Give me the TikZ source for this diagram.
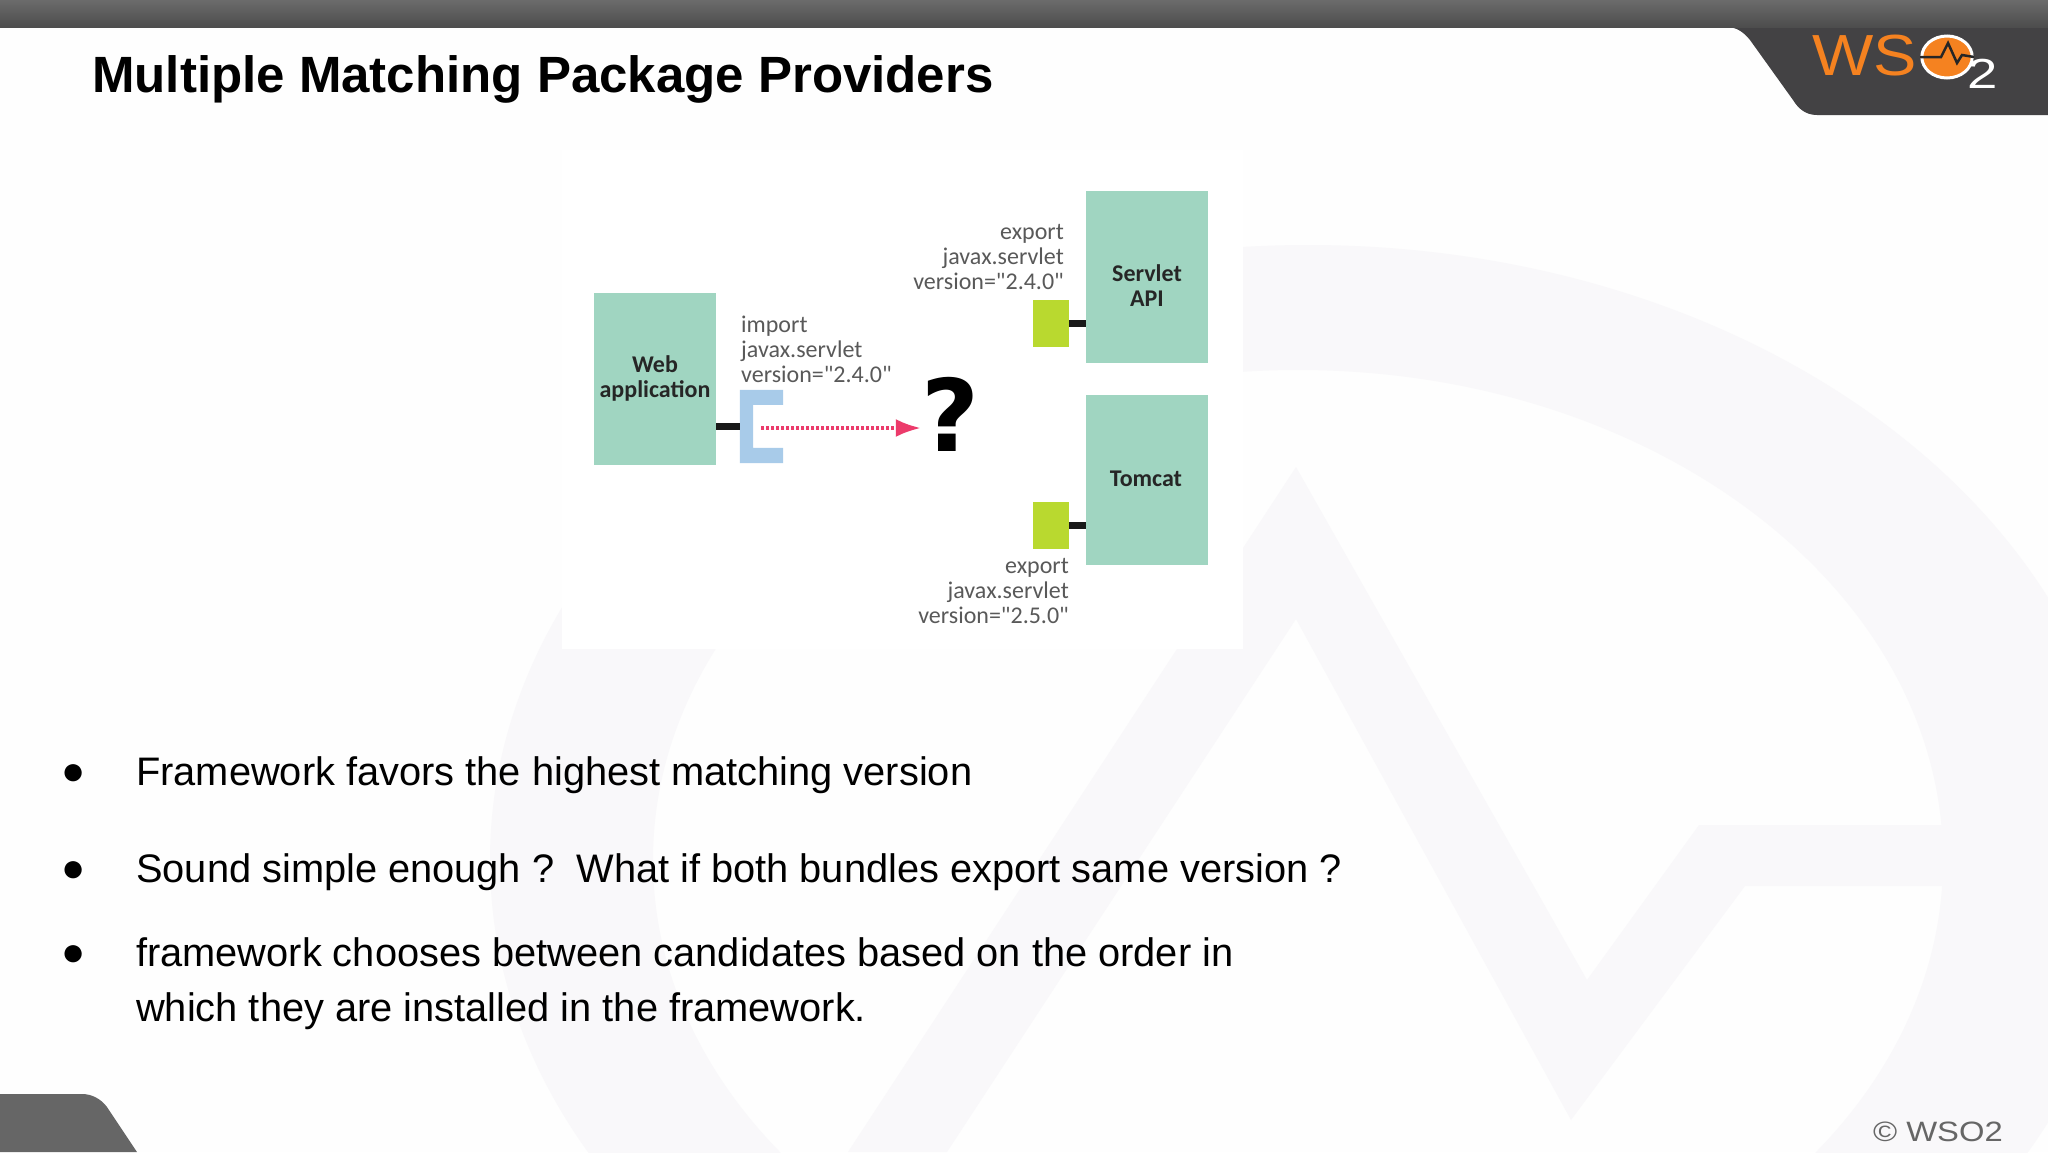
\documentclass[tikz,border=0pt]{standalone}
\usepackage{fontspec}
\setmainfont{Liberation Sans}
\newfontfamily\labelfont{Carlito}
\newfontfamily\heavyfont{DejaVu Sans}
\usetikzlibrary{arrows.meta}
\definecolor{wmark}{HTML}{F9F8FA}
\definecolor{bundle}{HTML}{A0D5C1}
\definecolor{pkg}{HTML}{B9D92F}
\definecolor{socketblue}{HTML}{A8CBE9}
\definecolor{pinkline}{HTML}{EC3B6B}
\definecolor{wsoorange}{HTML}{F58220}
\definecolor{header}{HTML}{434244}
\tikzset{
	bundlebox/.style={fill=bundle,minimum width=122pt,inner sep=0pt,font=\labelfont\bfseries\fontsize{24}{25}\selectfont,text=black!85,align=center},
	pkgbox/.style={fill=pkg,minimum width=36pt,minimum height=47pt,inner sep=0pt},
	pkglabel/.style={inner sep=0pt,font=\labelfont\fontsize{24}{25}\selectfont,text=black!65},
	stub/.style={line width=7pt,black!90},
	bullet/.style={inner sep=0pt,font=\fontsize{40}{40}\selectfont},
	bodytext/.style={inner sep=0pt,anchor=base west,font=\fontsize{39.8}{55.5}\selectfont,align=left}
}
\begin{document}
\begin{tikzpicture}[x=1pt,y=-1pt]
	\useasboundingbox (0,0) rectangle (2048,1152);
	\fill[white!99.5!black] (0,0) rectangle (2048,1152);
	% watermark behind the slide
	\fill[wmark,even odd rule] (1308,860) ellipse [x radius=818pt,y radius=615pt] (1298,860) ellipse [x radius=645pt,y radius=490pt];
	\fill[wmark] (848,1152) -- (1296,467) -- (1587,980) -- (1699,825) -- (1943,825) -- (1943,886) -- (1745,886) -- (1571,1120) -- (1296,619) -- (947,1152) -- cycle;
	\fill[white] (562,150) rectangle (1243,649);
	% header and footer
	\fill[header] (1700,0) -- (2048,0) -- (2048,115) -- (1817,115) .. controls (1805,115) and (1798,108) .. (1793,100) -- (1750,40) .. controls (1743,31) and (1735,27) .. (1727,27) -- (1700,27) -- cycle;
	\shade[top color=black!58,bottom color=black!70] (0,0) rectangle (2048,27);
	\fill[black!60] (0,1094) -- (82,1094) .. controls (92,1094) and (101,1099) .. (107,1107) -- (137,1152) -- (0,1152) -- cycle;
	\node[inner sep=0pt,anchor=base west,font=\bfseries\fontsize{51}{51}\selectfont] (title) at (92,92) {Multiple Matching Package Providers};
	\node[inner sep=0pt,anchor=base west,text=wsoorange,xscale=1.12,transform shape,font=\fontsize{58}{58}\selectfont] (wso) at (1812,75) {WS};
	\node[circle,draw=white,line width=3pt,fill=wsoorange,minimum width=42pt,xscale=1.2,transform shape] (logo) at (1947,57) {};
	\draw[line width=2.5pt,black!85] (logo.west) -- (1941,57) -- (1948,43) -- (1957,63) -- (1962,55) -- (logo.east);
	\node[inner sep=0pt,anchor=base west,text=white,xscale=1.3,transform shape,font=\fontsize{42}{42}\selectfont] (sub) at (1967,88) {2};
	\node[inner sep=0pt,anchor=base east,text=black!60,xscale=1.17,transform shape,font=\fontsize{28}{28}\selectfont] (copy) at (2003,1141) {© WSO2};
	% the bundles
	\node[bundlebox,minimum height=172pt] (webapp) at (655,379) {};
	\node[bundlebox,minimum height=172pt] (servlet) at (1147,277) {};
	\node[bundlebox,minimum height=170pt] (tomcat) at (1147,480) {};
	\node[bundlebox,fill=none] (webname) at (655,378) {Web\\application};
	\node[bundlebox,fill=none] (servletname) at (1147,286) {Servlet\\API};
	\node[bundlebox,fill=none] (tomcatname) at (1146,479) {Tomcat};
	\node[pkgbox] (pkgapi) at (1051,323.5) {};
	\node[pkgbox] (pkgcat) at (1051,525) {};
	\draw[stub] (pkgapi.east) -- (servlet.west |- pkgapi.east);
	\draw[stub] (pkgcat.east) -- (tomcat.west |- pkgcat.east);
	\node[minimum width=43pt,minimum height=73pt,inner sep=0pt] (socket) at (761.5,426.5) {};
	\fill[socketblue] (socket.north west) -- (socket.north east) -- ++(0,15) -- ++(-30,0) -- ++(0,43) -- ++(30,0) -- (socket.south east) -- (socket.south west) -- cycle;
	\draw[stub] (webapp.east |- socket.west) -- (socket.west);
	\node[inner sep=0pt,font=\heavyfont\bfseries\fontsize{100}{100}\selectfont] (quest) at (950,414) {?};
	\coordinate (dashstart) at (761,428);
	\draw[pinkline,line width=3.5pt,dash pattern=on 3pt off 2pt,-{Latex[length=25pt,width=18pt]}] (dashstart) -- (dashstart -| quest.west);
	\node[pkglabel,align=left,anchor=west] (importlabel) at (741,349) {import\\javax.servlet\\version="2.4.0"};
	\node[pkglabel,align=right,anchor=east] (apilabel) at (1064,257) {export\\javax.servlet\\version="2.4.0"};
	\node[pkglabel,align=right,anchor=east] (catlabel) at (1069,591) {export\\javax.servlet\\version="2.5.0"};
	% the text
	\node[bullet] (b1) at (74,775) {●};
	\node[bullet] (b2) at (74,872) {●};
	\node[bullet] (b3) at (74,956) {●};
	\node[bodytext] (t1) at (136,785) {Framework favors the highest matching version};
	\node[bodytext] (t2) at (136,882) {Sound simple enough ?\ \ What if both bundles export same version ?};
	\node[bodytext] (t3) at (136,966) {framework chooses between candidates based on the order in};
	\node[bodytext] (t4) at (136,1021) {which they are installed in the framework.};
\end{tikzpicture}
\end{document}
